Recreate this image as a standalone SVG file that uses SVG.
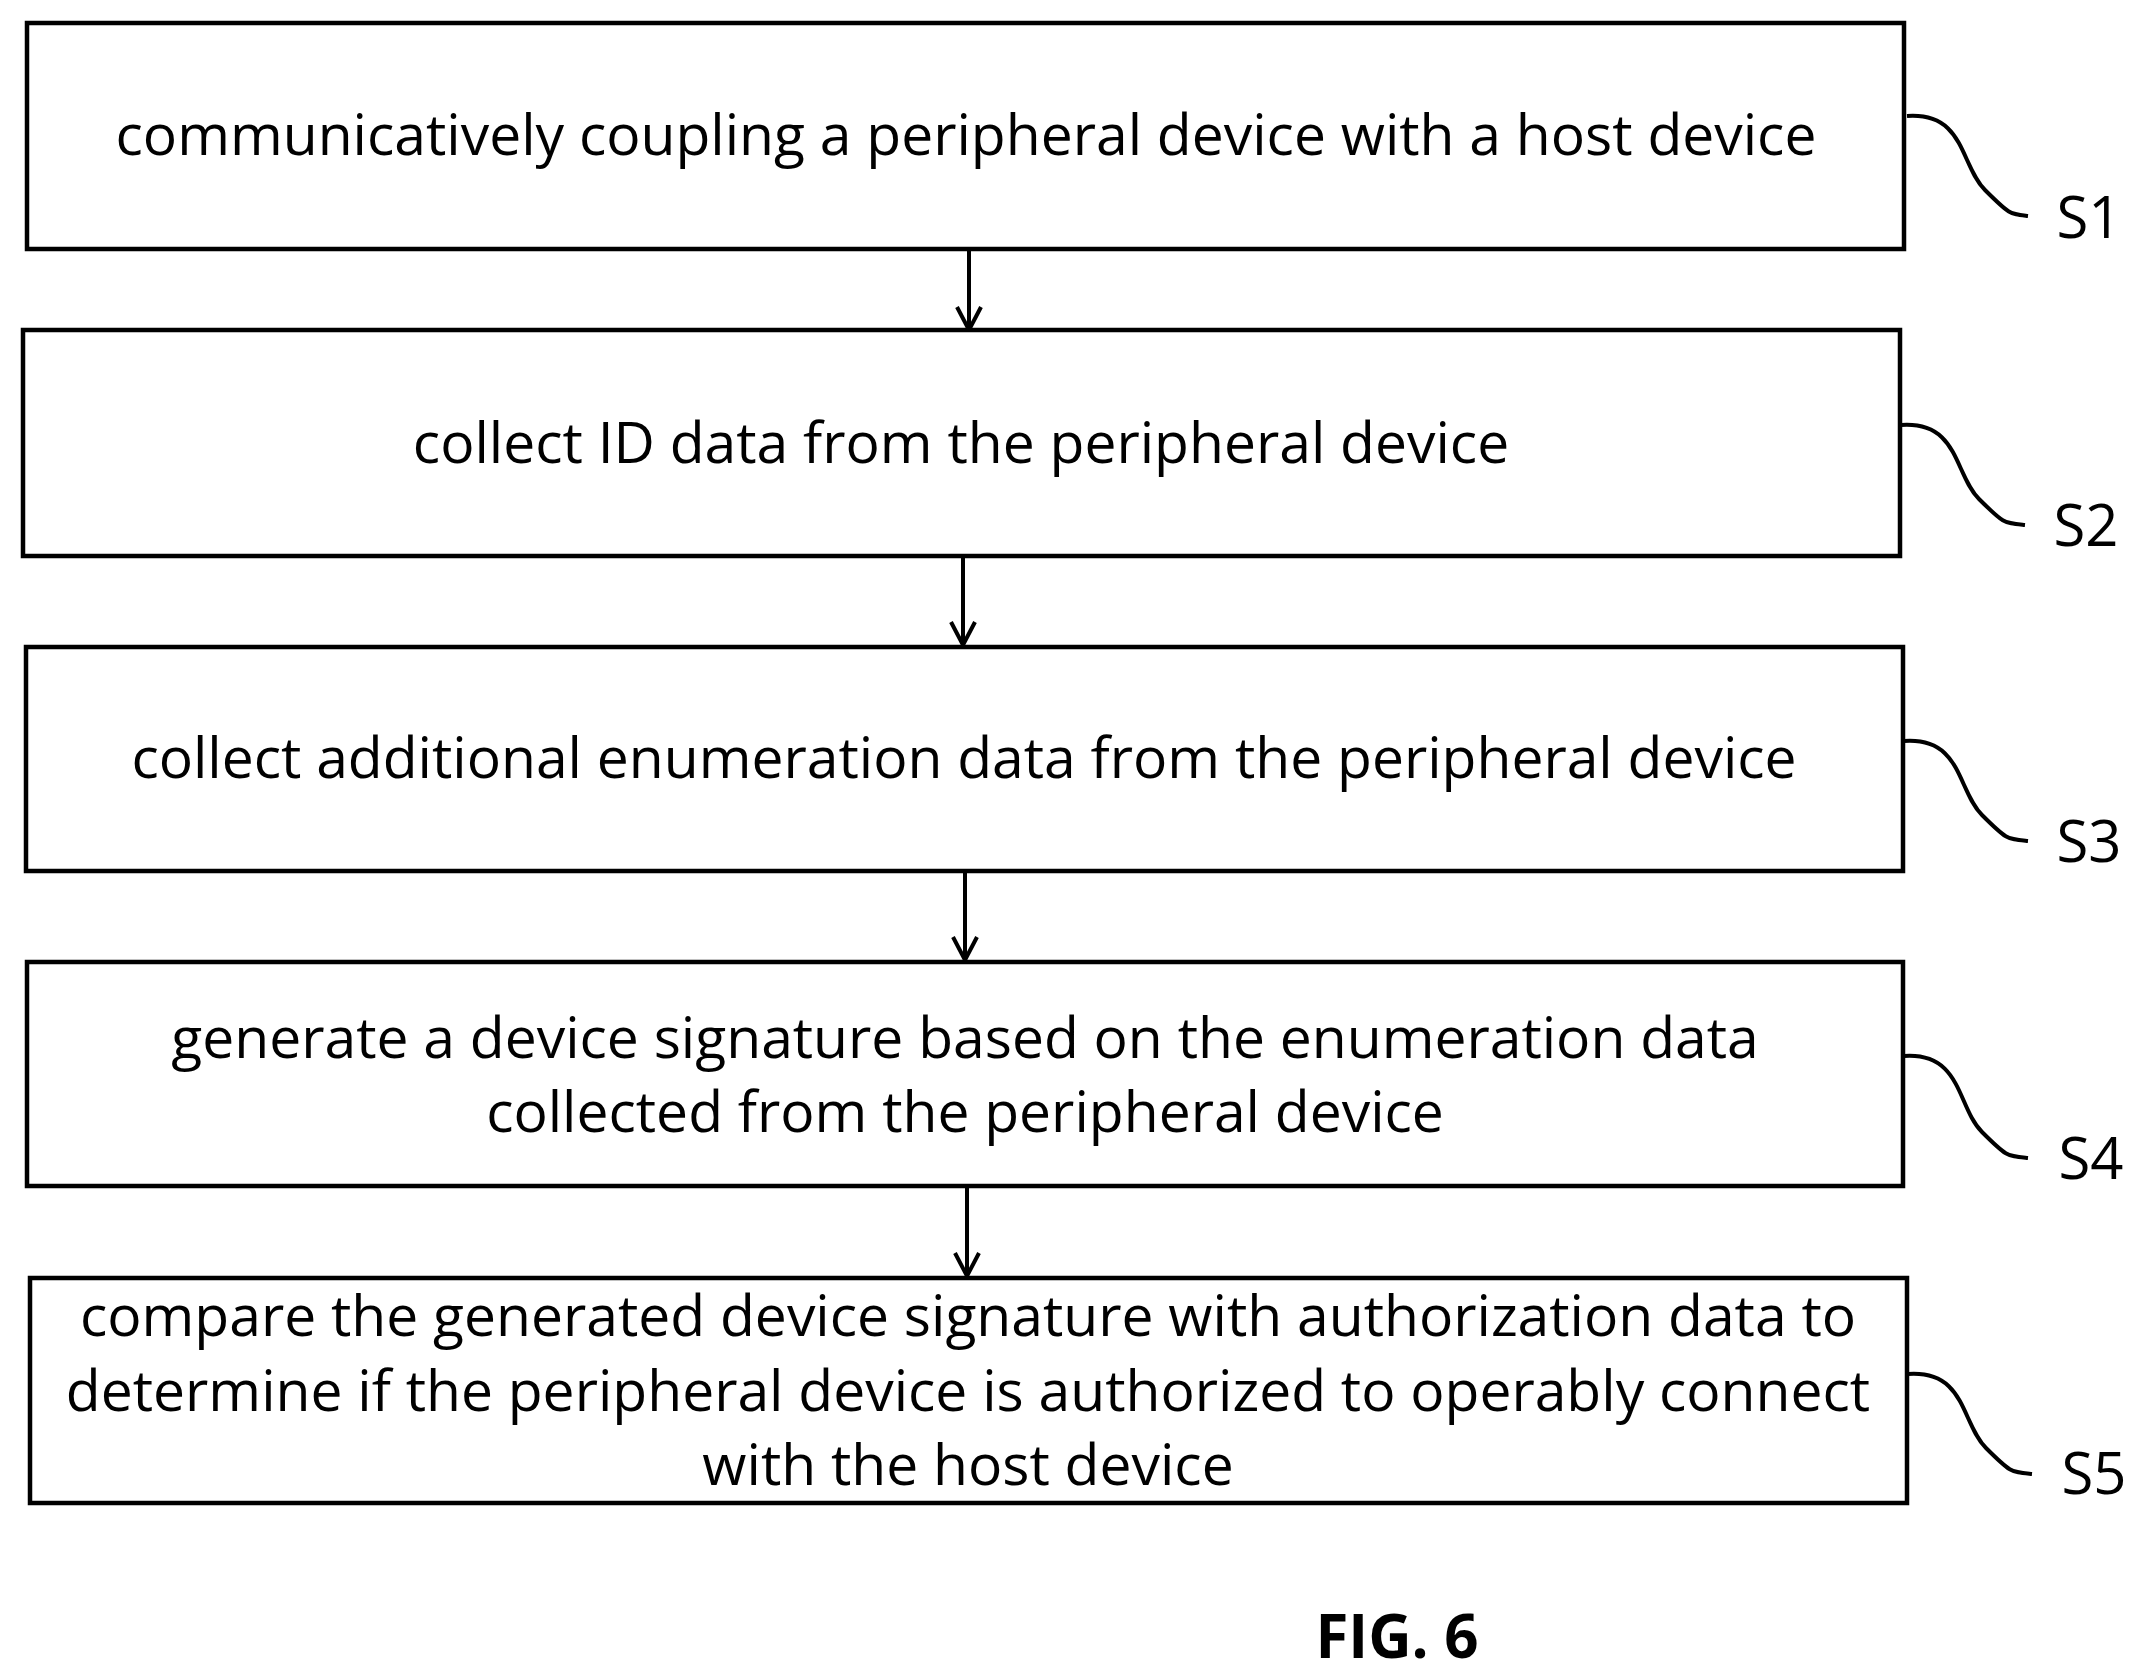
<svg xmlns="http://www.w3.org/2000/svg" width="2137" height="1673" viewBox="0 0 2137 1673">
<style>
.box{fill:#fff;stroke:#000;stroke-width:4.5}
.t{font-family:"Open Sans","Noto Sans",sans-serif;font-size:57px;text-anchor:middle;fill:#000}
.lbl{font-family:"Open Sans","Noto Sans",sans-serif;font-size:58px;text-anchor:middle;fill:#000}
.c{fill:none;stroke:#000;stroke-width:4}
</style>
<defs><marker id="ah" viewBox="0 0 28 28" refX="26" refY="14" markerWidth="28" markerHeight="28" markerUnits="userSpaceOnUse" orient="auto"><polyline points="3,2 26,14 3,26" fill="none" stroke="#000" stroke-width="4"/></marker></defs>
<rect width="2137" height="1673" fill="#fff"/>
<g id="n1"><rect class="box" x="27" y="23" width="1877" height="226"/><text class="t" x="966" y="155">communicatively coupling a peripheral device with a host device</text></g>
<g id="n2"><rect class="box" x="23" y="330" width="1877" height="226"/><text class="t" x="961" y="463">collect ID data from the peripheral device</text></g>
<g id="n3"><rect class="box" x="26" y="647" width="1877" height="224"/><text class="t" x="964" y="778">collect additional enumeration data from the peripheral device</text></g>
<g id="n4"><rect class="box" x="27" y="962" width="1876" height="224"/><text class="t" x="965" y="1058">generate a device signature based on the enumeration data</text><text class="t" x="965" y="1132">collected from the peripheral device</text></g>
<g id="n5"><rect class="box" x="30" y="1278" width="1877" height="225"/><text class="t" x="968" y="1336">compare the generated device signature with authorization data to</text><text class="t" x="968" y="1411">determine if the peripheral device is authorized to operably connect</text><text class="t" x="968" y="1485">with the host device</text></g>
<g id="connectors">
<line class="c" x1="969" y1="249" x2="969" y2="330" marker-end="url(#ah)"/>
<line class="c" x1="963" y1="556" x2="963" y2="645" marker-end="url(#ah)"/>
<line class="c" x1="965" y1="871" x2="965" y2="960" marker-end="url(#ah)"/>
<line class="c" x1="967" y1="1186" x2="967" y2="1276" marker-end="url(#ah)"/>
<path class="c" d="M1907,116 C1965,112 1960,165 1985,190 S2010,214 2028,216"/>
<path class="c" d="M1901,425 C1959,421 1954,474 1979,499 S2004,523 2025,525"/>
<path class="c" d="M1904,741 C1962,737 1957,790 1982,815 S2007,839 2028,841"/>
<path class="c" d="M1904,1056 C1962,1052 1957,1107 1982,1132 S2007,1156 2028,1158"/>
<path class="c" d="M1908,1374 C1966,1370 1961,1423 1986,1448 S2011,1472 2032,1474"/>
</g>
<text class="lbl" x="2089" y="238">S1</text>
<text class="lbl" x="2086" y="546">S2</text>
<text class="lbl" x="2089" y="862">S3</text>
<text class="lbl" x="2091" y="1179">S4</text>
<text class="lbl" x="2094" y="1494">S5</text>
<text x="1397" y="1658" style="font-family:'Open Sans','Noto Sans',sans-serif;font-size:60px;font-weight:bold;text-anchor:middle">FIG. 6</text>
</svg>
